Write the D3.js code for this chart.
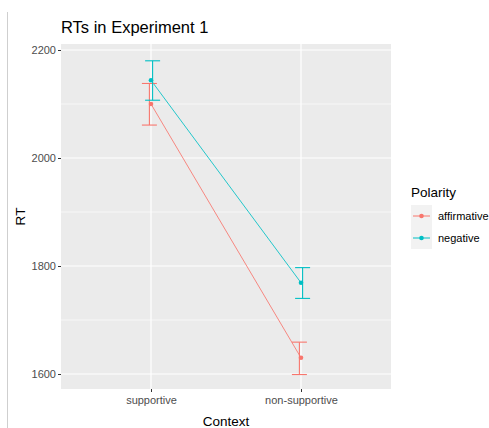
<!DOCTYPE html>
<html><head><meta charset="utf-8">
<script src="https://cdn.jsdelivr.net/npm/d3@7/dist/d3.min.js"></script>
<style>body{margin:0;background:#fff;}svg{display:block;font-family:"Liberation Sans",Arial,sans-serif;}</style>
</head><body>
<script>
const contexts = ["supportive", "non-supportive"];
const polarities = ["affirmative", "negative"];
const colors = ["#F8766D", "#00BFC4"];
// mean, lower, upper per context for each polarity
const affirmativeMean = [2100, 1630];
const affirmativeLow = [2061, 1599];
const affirmativeHigh = [2138, 1659];
const negativeMean = [2144, 1769];
const negativeLow = [2107, 1740];
const negativeHigh = [2180, 1797];
const yTicks = [1600, 1800, 2000, 2200];
const yMinor = [1700, 1900, 2100];

const W = 489, H = 428;
const svg = d3.select("body").append("svg").attr("width", W).attr("height", H);

// left border line
svg.append("line").attr("x1", 7.5).attr("x2", 7.5).attr("y1", 12).attr("y2", H)
  .attr("stroke", "#cfcfcf").attr("stroke-width", 1);

const pL = 61, pR = 391, pT = 44, pB = 389;
const y = d3.scaleLinear().domain([1600, 2200]).range([374, 50]);
const xIdx = d3.scaleLinear().domain([0.4, 2.6]).range([pL, pR]);
const x = c => xIdx(contexts.indexOf(c) + 1);

svg.append("rect").attr("x", pL).attr("y", pT).attr("width", pR - pL).attr("height", pB - pT).attr("fill", "#EBEBEB");

const g = svg.append("g");
yMinor.forEach(v => g.append("line").attr("x1", pL).attr("x2", pR).attr("y1", y(v)).attr("y2", y(v)).attr("stroke", "#fff").attr("stroke-width", 0.6));
yTicks.forEach(v => g.append("line").attr("x1", pL).attr("x2", pR).attr("y1", y(v)).attr("y2", y(v)).attr("stroke", "#fff").attr("stroke-width", 1.2));
contexts.forEach(c => g.append("line").attr("x1", x(c)).attr("x2", x(c)).attr("y1", pT).attr("y2", pB).attr("stroke", "#fff").attr("stroke-width", 1.2));

// axes
const yAxis = d3.axisLeft(y).tickValues(yTicks).tickFormat(d3.format("d")).tickSize(3).tickPadding(2);
const ya = svg.append("g").attr("transform", `translate(${pL},0)`).call(yAxis);
ya.select(".domain").remove();
ya.selectAll("line").attr("stroke", "#333");
ya.selectAll("text").attr("fill", "#4D4D4D").attr("font-size", 11).attr("font-family", "Liberation Sans, Arial, sans-serif");

const xScaleBand = d3.scalePoint().domain(contexts).range([x(contexts[0]), x(contexts[1])]);
const xAxis = d3.axisBottom(xScaleBand).tickSize(3).tickPadding(4);
const xa = svg.append("g").attr("transform", `translate(0,${pB})`).call(xAxis);
xa.select(".domain").remove();
xa.selectAll("line").attr("stroke", "#333");
xa.selectAll("text").attr("fill", "#4D4D4D").attr("font-size", 11).attr("font-family", "Liberation Sans, Arial, sans-serif");

// data series
const series = [
  {name: polarities[0], color: colors[0], mean: affirmativeMean, low: affirmativeLow, high: affirmativeHigh, dodge: -1.6},
  {name: polarities[1], color: colors[1], mean: negativeMean, low: negativeLow, high: negativeHigh, dodge: 1.6}
];
const line = d3.line().x(d => x(d.c)).y(d => y(d.v));
series.forEach(s => {
  const pts = contexts.map((c, i) => ({c, v: s.mean[i]}));
  svg.append("path").attr("d", line(pts)).attr("fill", "none").attr("stroke", s.color).attr("stroke-width", 1).attr("stroke-opacity", 0.85);
});
series.forEach(s => {
  contexts.forEach((c, i) => {
    const cx = x(c) + s.dodge;
    const hw = 7.5;
    const eg = svg.append("g").attr("stroke", s.color).attr("stroke-width", 1.1);
    eg.append("line").attr("x1", cx).attr("x2", cx).attr("y1", y(s.low[i])).attr("y2", y(s.high[i]));
    eg.append("line").attr("x1", cx - hw).attr("x2", cx + hw).attr("y1", y(s.low[i])).attr("y2", y(s.low[i]));
    eg.append("line").attr("x1", cx - hw).attr("x2", cx + hw).attr("y1", y(s.high[i])).attr("y2", y(s.high[i]));
    svg.append("circle").attr("cx", x(c)).attr("cy", y(s.mean[i])).attr("r", 2.3).attr("fill", s.color);
  });
});

// titles
svg.append("text").attr("x", 61).attr("y", 33).attr("font-size", 16.5).attr("fill", "#000").text("RTs in Experiment 1");
svg.append("text").attr("transform", `translate(25,${(pT + pB) / 2}) rotate(-90)`).attr("text-anchor", "middle").attr("font-size", 13.5).attr("fill", "#000").text("RT");
svg.append("text").attr("x", (pL + pR) / 2).attr("y", 426).attr("text-anchor", "middle").attr("font-size", 13.5).attr("fill", "#000").text("Context");

// legend
const lg = svg.append("g");
lg.append("text").attr("x", 411).attr("y", 197).attr("font-size", 13.5).attr("fill", "#000").text("Polarity");
series.forEach((s, i) => {
  const ky = 205 + i * 22;
  lg.append("rect").attr("x", 411).attr("y", ky).attr("width", 21).attr("height", 22).attr("fill", "#F2F2F2");
  lg.append("line").attr("x1", 413).attr("x2", 430).attr("y1", ky + 11).attr("y2", ky + 11).attr("stroke", s.color).attr("stroke-width", 1);
  lg.append("circle").attr("cx", 421.5).attr("cy", ky + 11).attr("r", 2.3).attr("fill", s.color);
  lg.append("text").attr("x", 438).attr("y", ky + 15).attr("font-size", 11).attr("fill", "#000").text(s.name);
});
</script>
</body></html>
